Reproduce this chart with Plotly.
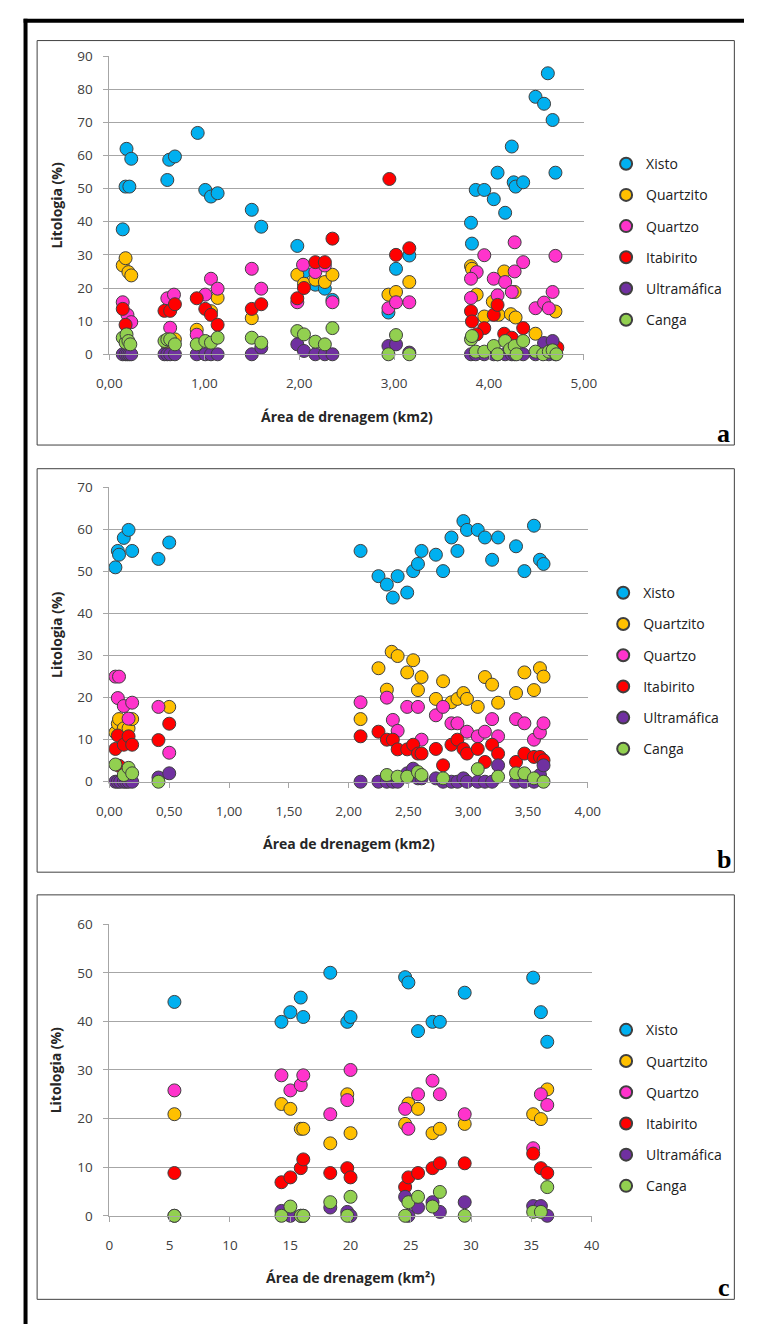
import plotly.graph_objects as go

W, H = 758, 1333

SERIES = ["Xisto", "Quartzito", "Quartzo", "Itabirito", "Ultramáfica", "Canga"]
COLORS = ["#00B0F0", "#FFC000", "#FF33CC", "#FF0000", "#7030A0", "#92D050"]

# ---------------- Panel a ----------------
a_xisto_x = [0.14, 0.17, 0.18, 0.21, 0.23, 0.61, 0.63, 0.69, 0.93, 1.01, 1.07, 1.14, 1.50, 1.60,
             1.98, 2.05, 2.17, 2.27, 2.35, 2.94, 3.02, 3.16, 3.81, 3.82, 3.86, 3.95, 4.05, 4.09,
             4.17, 4.24, 4.26, 4.28, 4.36, 4.49, 4.58, 4.62, 4.67, 4.70]
a_xisto_y = [37.7, 50.6, 62, 50.6, 59, 52.6, 58.7, 59.7, 66.8, 49.6, 47.6, 48.6, 43.6, 38.5,
             32.7, 24.8, 21, 19.8, 16.4, 12.6, 25.8, 29.8, 39.7, 33.4, 49.6, 49.6, 46.8, 54.8,
             42.7, 62.7, 51.9, 50.6, 51.9, 77.7, 75.6, 84.8, 70.7, 54.8]

a_quartzito_x = [0.14, 0.17, 0.20, 0.23, 0.61, 0.69, 0.92, 1.07, 1.14, 1.50,
                 1.98, 2.05, 2.17, 2.27, 2.35, 2.94, 3.02, 3.16,
                 3.81, 3.82, 3.87, 3.95, 4.04, 4.10, 4.16, 4.23, 4.27, 4.28, 4.49, 4.70]
a_quartzito_y = [26.8, 29, 24.8, 23.8, 3, 4.5, 7.4, 13, 17, 10.9,
                 24, 21.3, 22.5, 21.8, 24, 18, 18.8, 21.8,
                 26.6, 25.8, 18, 11.4, 15.9, 11.9, 25, 12.1, 18.8, 11.1, 6.2, 12.9]

a_quartzo_x = [0.14, 0.19, 0.23, 0.61, 0.68, 0.64, 0.92, 1.01, 1.07, 1.14, 1.50, 1.60,
               1.98, 2.04, 2.17, 2.27, 2.35, 2.94, 3.02, 3.16,
               3.95, 4.70, 4.36, 3.87, 3.81, 4.27, 4.05, 4.17, 4.24, 4.67, 3.81, 4.09,
               4.49, 4.58, 4.63, 4.27]
a_quartzo_y = [15.7, 11.9, 9.7, 16.9, 18, 8, 5.9, 18, 22.8, 19.8, 25.8, 19.8,
               15.7, 27, 24.8, 26.8, 15.7, 13.9, 15.7, 15.7,
               29.9, 29.7, 27.8, 24.8, 22.8, 25, 22.8, 21.8, 18.8, 18.8, 17, 17.8,
               13.9, 15.6, 13.9, 33.8]

a_itabirito_x = [0.14, 0.17, 0.20, 0.58, 0.64, 0.69, 0.92, 1.01, 1.07, 1.14, 1.50, 1.60,
                 1.98, 2.05, 2.17, 2.27, 2.35, 2.95, 3.02, 3.16,
                 3.81, 3.82, 3.95, 4.05, 4.09, 4.16, 4.24, 4.36, 3.87, 4.72]
a_itabirito_y = [13.7, 8.9, 3, 13.1, 13.1, 15.1, 16.9, 13.7, 11.9, 8.9, 13.7, 15.1,
                 16.9, 20, 27.8, 27.8, 34.9, 52.9, 30, 32,
                 13, 9.9, 7.9, 11.9, 14.9, 6.2, 5, 7.9, 6, 2]

a_ultramafica_x = [0.14, 0.17, 0.19, 0.21, 0.23, 0.58, 0.61, 0.64, 0.69, 0.92, 1.01, 1.07, 1.14,
                   1.50, 1.60, 1.98, 2.05, 2.17, 2.27, 2.35, 2.94, 3.02, 3.16,
                   3.81, 3.86, 3.95, 4.05, 4.09, 4.17, 4.24, 4.27, 4.36, 4.49, 4.63, 4.70, 4.58, 4.67]
a_ultramafica_y = [0, 0, 0, 0, 0, 0, 0, 0, 0, 0, 0, 0, 0,
                   0, 2, 3, 1, 0, 0, 0, 2.5, 3, 0.5,
                   0, 0, 0, 0, 0, 0, 0, 0, 0, 0, 0, 0, 3.4, 4]

a_canga_x = [0.14, 0.17, 0.18, 0.20, 0.22, 0.58, 0.61, 0.64, 0.69, 0.92, 1.01, 1.07, 1.14,
             1.50, 1.60, 1.98, 2.05, 2.17, 2.27, 2.35, 2.94, 3.02, 3.16,
             3.81, 3.82, 3.86, 3.95, 4.05, 4.09, 4.17, 4.22, 4.27, 4.29, 4.36, 4.49, 4.57,
             4.63, 4.67, 4.71]
a_canga_y = [5, 3.5, 6, 4, 3, 4, 4.5, 4.5, 3, 3, 4, 3.5, 5,
             5, 3.5, 7, 6, 3.8, 3, 7.9, 0, 5.8, 0,
             4.5, 5.5, 0.8, 0.8, 2.5, 0, 4, 1.5, 2.5, 0, 4, 0.8, 0,
             0.8, 1.2, 0]

# ---------------- Panel b ----------------
b_xisto_x = [0.05, 0.07, 0.08, 0.12, 0.16, 0.19, 0.41, 0.50,
             2.10, 2.25, 2.32, 2.37, 2.41, 2.49, 2.54, 2.58, 2.61, 2.73, 2.79, 2.86, 2.91, 2.96,
             2.99, 3.08, 3.14, 3.25, 3.20, 3.40, 3.47, 3.55, 3.60, 3.63]
b_xisto_y = [51, 54.9, 54, 58, 59.9, 54.9, 53, 56.9,
             54.9, 48.9, 46.9, 43.8, 48.9, 45, 50.1, 51.8, 54.9, 54, 50.1, 58.1, 54.9, 62,
             59.9, 59.9, 58.1, 58.1, 52.8, 56, 50.1, 60.9, 52.8, 51.8]

b_quartzito_x = [0.05, 0.07, 0.08, 0.12, 0.16, 0.19, 0.50,
                 2.10, 2.25, 2.32, 2.36, 2.41, 2.49, 2.54, 2.58, 2.61, 2.73, 2.79, 2.86, 2.91,
                 2.96, 2.99, 3.08, 3.14, 3.20, 3.25, 3.40, 3.47, 3.55, 3.60, 3.63]
b_quartzito_y = [11.7, 13.8, 14.9, 12.7, 12.7, 14.9, 17.8,
                 14.9, 27, 21.9, 30.9, 29.9, 26, 28.9, 21.8, 24.9, 19.7, 23.9, 18.9, 19.7,
                 21.1, 19.7, 17.8, 24.9, 23.1, 18.8, 21.1, 26, 21.8, 27, 25]

b_quartzo_x = [0.05, 0.08, 0.07, 0.12, 0.19, 0.16, 0.41, 0.50,
               2.10, 2.32, 2.37, 2.41, 2.49, 2.58, 2.61, 2.73, 2.79, 2.86, 2.91, 2.99, 3.08,
               3.14, 3.20, 3.25, 3.40, 3.47, 3.55, 3.60, 3.63]
b_quartzo_y = [25, 25, 19.9, 18, 18.8, 15, 17.8, 6.9,
               18.9, 20, 14.7, 12.1, 17.8, 17.8, 10, 15.8, 17.8, 13.9, 13.9, 11.9, 10.8,
               11.9, 14.9, 10.8, 14.9, 13.9, 10, 11.7, 13.9]

b_itabirito_x = [0.05, 0.07, 0.08, 0.12, 0.16, 0.19, 0.41, 0.50,
                 2.10, 2.25, 2.32, 2.37, 2.41, 2.49, 2.54, 2.58, 2.61, 2.73, 2.79, 2.86, 2.91,
                 2.96, 2.99, 3.08, 3.14, 3.20, 3.25, 3.40, 3.47, 3.55, 3.60, 3.63]
b_itabirito_y = [7.8, 11, 3.8, 8.8, 10.8, 8.8, 9.9, 13.8,
                 10.8, 11.9, 10, 10, 7.7, 7.7, 8.8, 6.7, 6.7, 7.8, 3.9, 8.8, 10,
                 7.8, 6.7, 7.8, 4.7, 8.8, 6.7, 4.7, 6.7, 5.9, 5.9, 5.1]

b_ultramafica_x = [0.05, 0.07, 0.09, 0.12, 0.14, 0.16, 0.19, 0.41, 0.50,
                   2.10, 2.25, 2.32, 2.37, 2.41, 2.49, 2.54, 2.58, 2.61, 2.73, 2.79, 2.86,
                   2.91, 2.96, 2.99, 3.08, 3.14, 3.20, 3.25, 3.40, 3.47, 3.55, 3.60, 3.63]
b_ultramafica_y = [0, 0, 0, 0, 0, 0, 0, 1, 2,
                   0, 0, 0, 0, 0, 2, 3.1, 0.8, 0.8, 0.8, 0, 0,
                   0, 0.8, 0, 0, 0, 0, 3.9, 0, 0, 0, 1.6, 3.9]

b_canga_x = [0.05, 0.12, 0.16, 0.19, 0.41,
             2.32, 2.41, 2.49, 2.58, 2.61, 2.79, 3.08, 3.25, 3.40, 3.47, 3.55, 3.63]
b_canga_y = [4.1, 1.6, 3.3, 2, 0,
             1.6, 1.2, 1.2, 2.3, 1.6, 0.8, 3, 1.2, 2, 2, 0.8, 0]

# ---------------- Panel c ----------------
c_x = [5.39, 14.27, 15.01, 15.87, 16.08, 18.32, 19.73, 20.0, 24.53, 24.8, 25.6, 26.8,
       27.41, 29.47, 35.15, 35.79, 36.32]
c_xisto_y = [44, 39.9, 41.9, 44.9, 40.9, 50, 39.9, 40.9, 49.1, 48, 38, 39.9, 39.9, 45.9,
             49, 41.9, 35.8]
c_quartzito_y = [20.9, 23, 22, 17.9, 17.9, 14.9, 25, 17, 18.9, 23.1, 22, 17, 17.9, 18.9,
                 20.9, 19.9, 26]
c_quartzo_y = [25.8, 28.9, 25.8, 26.9, 28.9, 20.9, 23.8, 30, 22, 17.9, 25, 27.8, 25, 20.9,
               13.9, 25, 22.8]
c_itabirito_y = [8.8, 6.9, 7.9, 9.8, 11.6, 8.8, 9.8, 7.9, 5.9, 7.9, 8.8, 9.8, 10.8, 10.8,
                 12.8, 9.8, 8.8]
c_ultramafica_y = [0, 1, 0, 0, 0, 1.7, 0.8, 0, 3.9, 0, 1.7, 2.8, 0.8, 2.8, 2, 2, 0]
c_canga_y = [0, 0, 1.9, 0, 0, 2.8, 0, 3.9, 0, 2.8, 3.9, 1.9, 4.9, 0, 0.8, 0.8, 5.9]

# ---------------- layout helpers ----------------
def fx(p):
    return p / W


def fy(p):
    return 1 - p / H


FONT = "'Open Sans', Lato, sans-serif"
GRID = "#A6A6A6"
TXT = "#404040"

panels = [
    dict(series=[(a_xisto_x, a_xisto_y), (a_quartzito_x, a_quartzito_y), (a_quartzo_x, a_quartzo_y),
                 (a_itabirito_x, a_itabirito_y), (a_ultramafica_x, a_ultramafica_y), (a_canga_x, a_canga_y)],
         ax="", xr=[0, 5], xdt=1, xfmt=".2f", yr=[0, 90], plot=(100, 592, 47.7, 350),
         box=(25, 748, 32, 442), leg=(615, 141), xtitle="Área de drenagem (km2)", label="a", laby=430),
    dict(series=[(b_xisto_x, b_xisto_y), (b_quartzito_x, b_quartzito_y), (b_quartzo_x, b_quartzo_y),
                 (b_itabirito_x, b_itabirito_y), (b_ultramafica_x, b_ultramafica_y), (b_canga_x, b_canga_y)],
         ax="2", xr=[0, 4], xdt=0.5, xfmt=".2f", yr=[0, 70], plot=(100, 596, 485, 783.3),
         box=(25, 748, 466, 875), leg=(612, 576), xtitle="Área de drenagem (km2)", label="b", laby=862),
    dict(series=[(c_x, c_xisto_y), (c_x, c_quartzito_y), (c_x, c_quartzo_y),
                 (c_x, c_itabirito_y), (c_x, c_ultramafica_y), (c_x, c_canga_y)],
         ax="3", xr=[0, 40], xdt=5, xfmt="d", yr=[0, 60], plot=(100, 600, 927.7, 1223.3),
         box=(25, 748, 898, 1308), leg=(615, 1019), xtitle="Área de drenagem (km²)", label="c", laby=1296),
]

fig = go.Figure()
shapes = []
annotations = []
layout = {}

for pi, p in enumerate(panels):
    legname = "legend" if pi == 0 else f"legend{pi + 1}"
    for si, (xs, ys) in enumerate(p["series"]):
        fig.add_trace(go.Scatter(
            x=xs, y=ys, mode="markers", name=SERIES[si],
            xaxis="x" + p["ax"], yaxis="y" + p["ax"],
            legend=legname, legendgroup=f"{pi}-{si}",
            cliponaxis=False,
            marker=dict(size=13, color=COLORS[si], line=dict(color="#3F3F3F", width=1)),
        ))
    x0, x1, y0, y1 = p["plot"]
    layout["xaxis" + p["ax"]] = dict(
        domain=[fx(x0), fx(x1)], range=p["xr"], dtick=p["xdt"], tick0=0, tickformat=p["xfmt"],
        anchor="y" + p["ax"], showgrid=False, zeroline=False, showline=True, linecolor=GRID,
        ticks="outside", ticklen=5, tickcolor=GRID, ticklabelstandoff=12,
        tickfont=dict(family=FONT, size=13.5, color=TXT), fixedrange=True,
    )
    layout["yaxis" + p["ax"]] = dict(
        domain=[fy(y1), fy(y0)], range=p["yr"], dtick=10, tick0=0,
        anchor="x" + p["ax"], showgrid=True, gridcolor=GRID, gridwidth=1, zeroline=False,
        showline=True, linecolor=GRID, ticks="outside", ticklen=5, tickcolor=GRID,
        ticklabelstandoff=8, tickfont=dict(family=FONT, size=13.5, color=TXT), fixedrange=True,
    )
    lx, ly = p["leg"]
    layout[legname] = dict(
        x=fx(lx), y=fy(ly), xanchor="left", yanchor="top", bgcolor="rgba(0,0,0,0)",
        font=dict(family=FONT, size=14, color="#202020"), tracegroupgap=10, itemsizing="constant",
    )
    bx0, bx1, by0, by1 = p["box"]
    shapes.append(dict(type="rect", xref="paper", yref="paper", x0=fx(bx0), x1=fx(bx1),
                       y0=fy(by1), y1=fy(by0), line=dict(color="#404040", width=1)))
    annotations.append(dict(text="<b>Litologia (%)</b>", xref="paper", yref="paper",
                            x=fx(45), y=fy((y0 + y1) / 2), textangle=-90, showarrow=False,
                            xanchor="center", yanchor="middle",
                            font=dict(family=FONT, size=14, color="#262626")))
    annotations.append(dict(text="<b>" + p["xtitle"] + "</b>", xref="paper", yref="paper",
                            x=fx((x0 + x1) / 2), y=fy(y1 + 63), showarrow=False,
                            xanchor="center", yanchor="middle",
                            font=dict(family=FONT, size=14, color="#262626")))
    annotations.append(dict(text="<b>" + p["label"] + "</b>", xref="paper", yref="paper",
                            x=fx(737), y=fy(p["laby"]), showarrow=False,
                            xanchor="center", yanchor="middle",
                            font=dict(family="Liberation Serif, serif", size=26, color="#000000")))

# outer thick frame (top and left)
shapes.append(dict(type="line", xref="paper", yref="paper", x0=fx(11), x1=1, y0=fy(12), y1=fy(12),
                   line=dict(color="#000000", width=4)))
shapes.append(dict(type="line", xref="paper", yref="paper", x0=fx(13), x1=fx(13), y0=0, y1=fy(10),
                   line=dict(color="#000000", width=4)))

fig.update_layout(
    width=W, height=H, margin=dict(l=0, r=0, t=0, b=0, pad=0),
    paper_bgcolor="white", plot_bgcolor="white", separators=",.",
    showlegend=True, shapes=shapes, annotations=annotations, **layout,
)

fig.write_html(
    "out.html",
    post_script="document.body.style.margin='0';document.body.style.padding='0';"
                "document.documentElement.style.overflow='hidden';",
)
